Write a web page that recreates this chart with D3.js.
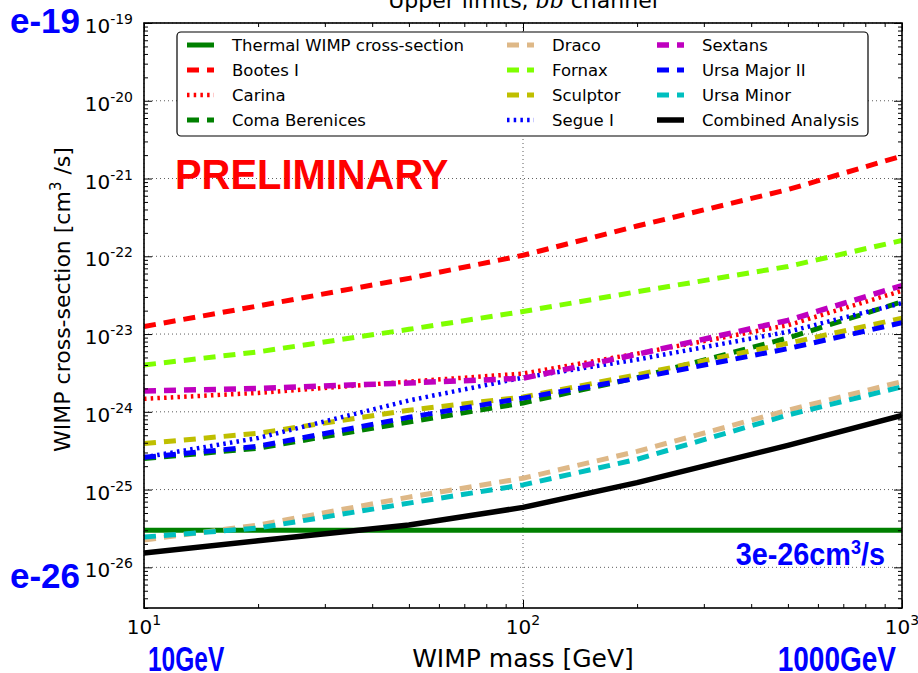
<!DOCTYPE html>
<html>
<head>
<meta charset="utf-8">
<script src="https://cdn.jsdelivr.net/npm/d3@7"></script>
<style>
  html, body { margin: 0; padding: 0; background: #fff; }
  svg { display: block; }
</style>
</head>
<body>
<svg id="chart" width="918" height="673"></svg>
<script>
// ---------------- DATA ----------------
const masses    = [10, 20, 50, 100, 200, 500, 1000];           // GeV
const thermal   = 3e-26;                                        // cm^3/s
const bootes    = [1.25e-23, 2.3e-23, 5.2e-23, 1.03e-22, 2.45e-22, 7.2e-22, 1.95e-21];
const carina    = [1.47e-24, 1.75e-24, 2.45e-24, 3.1e-24, 5.6e-24, 1.3e-23, 3.6e-23];
const coma      = [2.5e-25, 3.4e-25, 7.4e-25, 1.3e-24, 2.75e-24, 8.9e-24, 2.6e-23];
const draco     = [2.25e-26, 3.5e-26, 8.0e-26, 1.4e-25, 3.1e-25, 1.05e-24, 2.45e-24];
const fornax    = [4.0e-24, 5.9e-24, 1.15e-23, 1.95e-23, 3.5e-23, 7.4e-23, 1.6e-22];
const sculptor  = [3.9e-25, 5.3e-25, 1.05e-24, 1.55e-24, 3.0e-24, 7.6e-24, 1.6e-23];
const segue     = [2.6e-25, 4.6e-25, 1.4e-24, 2.75e-24, 4.7e-24, 1.07e-23, 2.5e-23];
const sextans   = [1.85e-24, 2.0e-24, 2.35e-24, 2.7e-24, 5.5e-24, 1.5e-23, 4.2e-23];
const umaii     = [2.6e-25, 3.6e-25, 8.5e-25, 1.5e-24, 2.7e-24, 6.5e-24, 1.4e-23];
const umi       = [2.45e-26, 3.2e-26, 6.7e-26, 1.15e-25, 2.45e-25, 9.1e-25, 2.1e-24];
const combined  = [1.53e-26, 2.2e-26, 3.5e-26, 5.9e-26, 1.23e-25, 3.7e-25, 9.0e-25];

const xTickExps = [1, 2, 3];
const yTickExps = [-19, -20, -21, -22, -23, -24, -25, -26];
const seriesNames = ["Thermal WIMP cross-section", "Bootes I", "Carina", "Coma Berenices",
                     "Draco", "Fornax", "Sculptor", "Segue I",
                     "Sextans", "Ursa Major II", "Ursa Minor", "Combined Analysis"];

// ---------------- STYLES ----------------
const DASH = "12,8", DOT = "2.5,4.2";
const styles = [
  {color: "#008000", dash: null, width: 5},
  {color: "#ff0000", dash: DASH, width: 5},
  {color: "#ff0000", dash: DOT,  width: 4.5},
  {color: "#008000", dash: DASH, width: 5},
  {color: "#deb887", dash: DASH, width: 5},
  {color: "#7fff00", dash: DASH, width: 5},
  {color: "#bfbf00", dash: DASH, width: 5},
  {color: "#0000ff", dash: DOT,  width: 4.5},
  {color: "#bf00bf", dash: DASH, width: 5.5},
  {color: "#0000ff", dash: DASH, width: 5},
  {color: "#00bfbf", dash: DASH, width: 5},
  {color: "#000000", dash: null, width: 5.5}
];
const seriesData = [
  masses.map(() => thermal), bootes, carina, coma, draco, fornax,
  sculptor, segue, sextans, umaii, umi, combined
];

// ---------------- LAYOUT ----------------
const svg = d3.select("#chart");
const L = 144, R = 902, T = 23, B = 608;
const x = d3.scaleLog().domain([10, 1000]).range([L, R]);
const y = d3.scaleLog().domain([3e-27, 1e-19]).range([B, T]);
const FONT = "'DejaVu Sans', sans-serif";

svg.append("defs").append("clipPath").attr("id", "clip")
  .append("rect").attr("x", L).attr("y", T).attr("width", R - L).attr("height", B - T);

// grid
const grid = svg.append("g").attr("stroke", "#000").attr("stroke-width", 0.8)
  .attr("stroke-dasharray", "1,3").attr("opacity", 0.8);
xTickExps.forEach(e => {
  const v = Math.pow(10, e);
  grid.append("line").attr("x1", x(v)).attr("x2", x(v)).attr("y1", T).attr("y2", B);
});
yTickExps.forEach(e => {
  const v = Math.pow(10, e);
  grid.append("line").attr("x1", L).attr("x2", R).attr("y1", y(v)).attr("y2", y(v));
});

// lines
const line = d3.line().x((d, i) => x(masses[i])).y(d => y(d));
const plot = svg.append("g").attr("clip-path", "url(#clip)");
seriesData.forEach((vals, i) => {
  const s = styles[i];
  plot.append("path").datum(vals)
    .attr("d", line)
    .attr("fill", "none")
    .attr("stroke", s.color)
    .attr("stroke-width", s.width)
    .attr("stroke-dasharray", s.dash)
    .attr("stroke-linejoin", "round");
});

// axes with inward ticks
const xMinor = x.ticks().filter(v => !xTickExps.some(e => Math.abs(v - Math.pow(10, e)) < 1e-9));
const yMinorAll = [];
for (let e = -27; e <= -20; e++) for (let k = 2; k <= 9; k++) {
  const v = k * Math.pow(10, e);
  if (v >= 3e-27 && v <= 1e-19) yMinorAll.push(v);
}
const xMaj = xTickExps.map(e => Math.pow(10, e));
const yMaj = yTickExps.map(e => Math.pow(10, e));

function drawAxis(gen, tx, ty) {
  const g = svg.append("g").attr("transform", `translate(${tx},${ty})`).call(gen);
  g.select(".domain").remove();
  g.selectAll("line").attr("stroke", "#000").attr("stroke-width", 1);
  g.selectAll("text").remove();
  return g;
}
drawAxis(d3.axisBottom(x).tickValues(xMaj).tickSize(-8), 0, B);
drawAxis(d3.axisBottom(x).tickValues(xMinor).tickSize(-4), 0, B);
drawAxis(d3.axisTop(x).tickValues(xMaj).tickSize(-8), 0, T);
drawAxis(d3.axisTop(x).tickValues(xMinor).tickSize(-4), 0, T);
drawAxis(d3.axisLeft(y).tickValues(yMaj).tickSize(-8), L, 0);
drawAxis(d3.axisLeft(y).tickValues(yMinorAll).tickSize(-4), L, 0);
drawAxis(d3.axisRight(y).tickValues(yMaj).tickSize(-8), R, 0);
drawAxis(d3.axisRight(y).tickValues(yMinorAll).tickSize(-4), R, 0);

svg.append("rect").attr("x", L).attr("y", T).attr("width", R - L).attr("height", B - T)
  .attr("fill", "none").attr("stroke", "#000").attr("stroke-width", 1.6);

// tick labels
xTickExps.forEach(e => {
  const t = svg.append("text").attr("x", x(Math.pow(10, e))).attr("y", 634)
    .attr("text-anchor", "middle").attr("font-family", FONT).attr("font-size", 20);
  t.append("tspan").text("10");
  t.append("tspan").attr("dy", -9).attr("font-size", 14).text(e);
});
yTickExps.forEach(e => {
  const t = svg.append("text").attr("x", 133).attr("y", y(Math.pow(10, e)) + 10)
    .attr("text-anchor", "end").attr("font-family", FONT).attr("font-size", 20);
  t.append("tspan").text("10");
  t.append("tspan").attr("dy", -9).attr("font-size", 14).text(e);
});

// axis titles
svg.append("text").attr("x", (L + R) / 2).attr("y", 667).attr("text-anchor", "middle")
  .attr("font-family", FONT).attr("font-size", 25).text("WIMP mass [GeV]");
const yl = svg.append("text").attr("transform", `translate(70,${(T + B) / 2 - 16}) rotate(-90)`)
  .attr("text-anchor", "middle").attr("font-family", FONT).attr("font-size", 22);
yl.append("tspan").text("WIMP cross-section [cm");
yl.append("tspan").attr("dy", -9).attr("font-size", 15).text("3");
yl.append("tspan").attr("dy", 9).text(" /s]");

// title (partly above the top edge, as in the reference)
const tt = svg.append("text").attr("x", (L + R) / 2).attr("y", 8).attr("text-anchor", "middle")
  .attr("font-family", FONT).attr("font-size", 22);
tt.append("tspan").text("Upper limits, ");
tt.append("tspan").attr("font-style", "italic").attr("font-family", "'DejaVu Serif', serif").text("bb\u0304");
tt.append("tspan").text(" channel");

// legend
const lg = svg.append("g");
lg.append("rect").attr("x", 177).attr("y", 32).attr("width", 691).attr("height", 104)
  .attr("rx", 4).attr("fill", "#fff").attr("stroke", "#000").attr("stroke-width", 1.2);
const colX = [187, 507, 657];
const rowY = [45, 70, 95, 120];
seriesNames.forEach((name, i) => {
  const c = Math.floor(i / 4), r = i % 4, s = styles[i];
  const yy = rowY[r];
  lg.append("line").attr("x1", colX[c]).attr("x2", colX[c] + 27).attr("y1", yy).attr("y2", yy)
    .attr("stroke", s.color).attr("stroke-width", s.width)
    .attr("stroke-dasharray", s.dash);
  lg.append("text").attr("x", colX[c] + 45).attr("y", yy + 6)
    .attr("font-family", FONT).attr("font-size", 16.5).text(name);
});

// annotations (condensed bold)
const BF = "'Liberation Sans', Arial, sans-serif";
function ann(txt, xx, yy, size, color, anchor, sx) {
  sx = sx || 1;
  const g = svg.append("g").attr("transform", `translate(${xx},${yy}) scale(${sx},1)`);
  return g.append("text").attr("x", 0).attr("y", 0).attr("font-family", BF)
    .attr("font-weight", "bold").attr("font-size", size).attr("fill", color)
    .attr("text-anchor", anchor || "start").text(txt);
}
ann("PRELIMINARY", 175, 189, 42, "#ff0000", "start", 0.95);
ann("e-19", 10, 33, 35, "#0000ff");
ann("e-26", 10, 588, 35, "#0000ff");
ann("10GeV", 148, 671, 35, "#0000ff", "start", 0.7);
ann("1000GeV", 896, 671, 35, "#0000ff", "end", 0.8);
const g3 = svg.append("g").attr("transform", "translate(885,565) scale(0.9,1)");
const a3 = g3.append("text").attr("font-family", BF)
  .attr("font-weight", "bold").attr("font-size", 32).attr("fill", "#0000ff").attr("text-anchor", "end");
a3.append("tspan").text("3e-26cm");
a3.append("tspan").attr("dy", -11).attr("font-size", 20).text("3");
a3.append("tspan").attr("dy", 11).text("/s");
</script>
</body>
</html>
